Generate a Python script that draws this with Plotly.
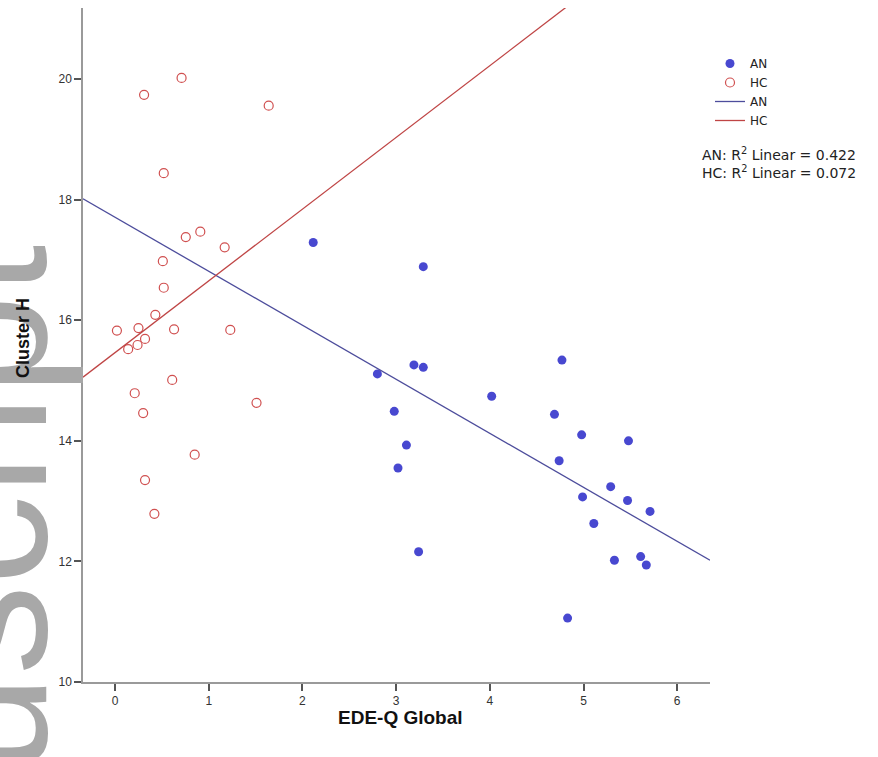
import numpy as np
import plotly.graph_objects as go

# ---- data ----
an_x = [2.115, 3.29, 3.19, 3.29, 2.80, 2.98, 3.11, 3.02, 3.24, 4.77, 4.02, 4.69,
        4.98, 5.48, 4.74, 5.29, 4.99, 5.47, 5.71, 5.11, 5.33, 5.61, 5.67, 4.83]
an_y = [17.29, 16.89, 15.26, 15.22, 15.11, 14.49, 13.93, 13.55, 12.16, 15.34, 14.74, 14.44,
        14.10, 14.00, 13.67, 13.24, 13.07, 13.01, 12.83, 12.63, 12.02, 12.08, 11.94, 11.06]

hc_x = [0.71, 0.31, 1.64, 0.52, 0.91, 0.755, 1.17, 0.51, 0.52, 0.43, 0.02, 0.63,
        1.23, 0.25, 0.32, 0.24, 0.14, 0.61, 0.21, 1.51, 0.30, 0.85, 0.32, 0.42]
hc_y = [20.02, 19.74, 19.56, 18.44, 17.47, 17.38, 17.21, 16.98, 16.54, 16.09, 15.83, 15.85,
        15.84, 15.87, 15.69, 15.59, 15.52, 15.01, 14.79, 14.63, 14.46, 13.77, 13.35, 12.79]

x_ticks = [0, 1, 2, 3, 4, 5, 6]
y_ticks = [10, 12, 14, 16, 18, 20]
r2_labels = ["AN: R<sup>2</sup> Linear = 0.422", "HC: R<sup>2</sup> Linear = 0.072"]

X_RANGE = [-0.342, 6.35]
Y_RANGE = [10.0, 21.18]

# ---- layout geometry (pixels) ----
W, H = 878, 757
ML, MR, MT, MB = 83, 168, 8, 75
PW, PH = W - ML - MR, H - MT - MB


def px_x(p):
    return (p - ML) / PW


def px_y(p):
    return (H - MB - p) / PH


AN_COLOR = "#4848d0"
HC_COLOR = "#d05050"
AN_LINE = "#4d4d9c"
HC_LINE = "#bf4545"
SANS = "Liberation Sans, Arial"
WIDE = "DejaVu Sans"

# fits
an_fit = np.polyfit(an_x, an_y, 1)
hc_fit = np.polyfit(hc_x, hc_y, 1)
line_x = np.array(X_RANGE)

fig = go.Figure()
fig.add_trace(go.Scatter(x=an_x, y=an_y, mode="markers", name="AN",
                         marker=dict(symbol="circle", size=9, color=AN_COLOR,
                                     line=dict(width=0))))
fig.add_trace(go.Scatter(x=hc_x, y=hc_y, mode="markers", name="HC",
                         marker=dict(symbol="circle-open", size=9, color=HC_COLOR,
                                     line=dict(width=1.2))))
fig.add_trace(go.Scatter(x=line_x, y=np.polyval(an_fit, line_x), mode="lines", name="AN",
                         line=dict(color=AN_LINE, width=1.3)))
fig.add_trace(go.Scatter(x=line_x, y=np.polyval(hc_fit, line_x), mode="lines", name="HC",
                         line=dict(color=HC_LINE, width=1.3)))

axis_common = dict(showline=True, linecolor="#9a9a9a", linewidth=1.5,
                   ticks="outside", ticklen=7, tickwidth=1.5, tickcolor="#555555",
                   showgrid=False, zeroline=False,
                   tickfont=dict(family=SANS, size=12, color="#333333"))

fig.update_layout(
    width=W, height=H,
    margin=dict(l=ML, r=MR, t=MT, b=MB),
    paper_bgcolor="white", plot_bgcolor="white",
    xaxis=dict(range=X_RANGE, tickvals=x_ticks, ticktext=[str(v) for v in x_ticks],
               **axis_common),
    yaxis=dict(range=Y_RANGE, tickvals=y_ticks, ticktext=[str(v) for v in y_ticks],
               **axis_common),
    showlegend=True,
    legend=dict(x=px_x(710), y=px_y(49), xanchor="left", yanchor="top",
                font=dict(family=WIDE, size=12, color="#222222"),
                bgcolor="rgba(0,0,0,0)", tracegroupgap=0, itemwidth=30),
)

# watermark (drawn first so the axis title sits on top)
fig.add_annotation(text="uscript", xref="paper", yref="paper",
                   x=px_x(-17), y=px_y(510), xanchor="center", yanchor="middle",
                   textangle=-90, showarrow=False,
                   font=dict(family=SANS, size=180, color="#a8a8a8"))

fig.add_annotation(text="<b>Cluster H</b>", xref="paper", yref="paper",
                   x=px_x(23), y=px_y(338), xanchor="center", yanchor="middle",
                   textangle=-90, showarrow=False,
                   font=dict(family=SANS, size=18, color="#111111"))

fig.add_annotation(text="<b>EDE-Q Global</b>", xref="paper", yref="paper",
                   x=px_x(400), y=px_y(717), xanchor="center", yanchor="middle",
                   showarrow=False,
                   font=dict(family=SANS, size=19, color="#111111"))

fig.add_annotation(text="<br>".join(r2_labels), xref="paper", yref="paper",
                   x=px_x(700), y=px_y(163), xanchor="left", yanchor="middle",
                   align="left", showarrow=False,
                   font=dict(family=WIDE, size=14, color="#222222"))

fig.write_html("out.html",
               config={"displayModeBar": False},
               post_script="document.body.style.margin='0px';document.body.style.padding='0px';")
